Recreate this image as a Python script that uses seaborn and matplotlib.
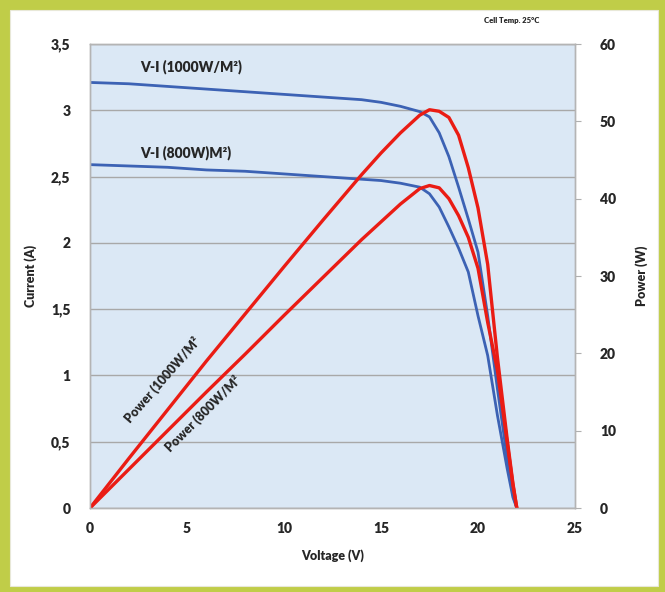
import matplotlib
matplotlib.use("Agg")
import matplotlib.pyplot as plt
from matplotlib.patches import Rectangle
import seaborn as sns
import pandas as pd

# values
voltage = [0, 2, 4, 6, 8, 10, 12, 14, 15, 16, 17, 17.5, 18, 18.5, 19, 19.5,
           20, 20.5, 21, 21.5, 21.8, 22]
current_1000 = [3.21, 3.20, 3.18, 3.16, 3.14, 3.12, 3.10, 3.08, 3.06, 3.03, 2.99, 2.95,
                2.83, 2.65, 2.42, 2.18, 1.93, 1.45, 0.90, 0.38, 0.10, 0.0]
current_800 = [2.59, 2.58, 2.57, 2.55, 2.54, 2.52, 2.50, 2.48, 2.47, 2.45, 2.42, 2.37,
               2.27, 2.12, 1.96, 1.78, 1.45, 1.15, 0.70, 0.30, 0.08, 0.0]
power_1000 = [0, 6.4, 12.7, 19.0, 25.1, 31.2, 37.2, 43.1, 45.9, 48.5, 50.8, 51.5,
              51.3, 50.5, 48.2, 44.0, 38.8, 31.5, 19.5, 9.0, 3.2, 0.0]
power_800 = [0, 5.0, 10.0, 15.0, 19.9, 24.9, 29.8, 34.7, 37.0, 39.3, 41.3, 41.7,
             41.4, 40.0, 37.8, 35.0, 31.0, 24.0, 17.8, 8.5, 3.0, 0.0]

current_ticks = [0, 0.5, 1, 1.5, 2, 2.5, 3, 3.5]
current_labels = ["0", "0,5", "1", "1,5", "2", "2,5", "3", "3,5"]
power_ticks = [0, 10, 20, 30, 40, 50, 60]
voltage_ticks = [0, 5, 10, 15, 20, 25]

df = pd.DataFrame({"V": voltage, "I1000": current_1000, "I800": current_800,
                   "P1000": power_1000, "P800": power_800})

sns.set_style("white")
plt.rcParams["font.family"] = ["Lato", "DejaVu Sans"]
plt.rcParams["font.weight"] = "heavy"
W = "heavy"

blue = "#3c62b4"
red = "#ea1c14"

fig = plt.figure(figsize=(6.65, 5.92), dpi=100)
fig.patch.set_facecolor("#c0cd48")
panel = Rectangle((10 / 665, 6 / 592), 648 / 665, 576 / 592,
                  transform=fig.transFigure, facecolor="white",
                  edgecolor="#e8e8d8", lw=0.8, zorder=-10)
fig.add_artist(panel)

ax = fig.add_axes([90 / 665, 1 - 508 / 592, 485 / 665, 464 / 592])
ax.set_facecolor("#dbe8f5")
ax2 = ax.twinx()

sns.lineplot(data=df, x="V", y="I1000", ax=ax, color=blue, lw=2, sort=False)
sns.lineplot(data=df, x="V", y="I800", ax=ax, color=blue, lw=2, sort=False)
sns.lineplot(data=df, x="V", y="P1000", ax=ax2, color=red, lw=2.4, sort=False)
sns.lineplot(data=df, x="V", y="P800", ax=ax2, color=red, lw=2.4, sort=False)

ax.set_xlim(0, 25)
ax.set_ylim(0, 3.5)
ax2.set_ylim(0, 60)

ax.set_xticks(voltage_ticks)
ax.set_xticklabels([str(v) for v in voltage_ticks], fontsize=10, fontweight=W)
ax.set_yticks(current_ticks)
ax.set_yticklabels(current_labels, fontsize=10, fontweight=W)
ax2.set_yticks(power_ticks)
ax2.set_yticklabels([str(p) for p in power_ticks], fontsize=10, fontweight=W)

ax.grid(axis="y", color="#a8a8a8", lw=1)
ax.grid(axis="x", visible=False)
ax2.grid(False)
ax.set_axisbelow(True)

ax.tick_params(axis="both", length=0, pad=14)
ax.tick_params(axis="x", pad=10)
ax2.tick_params(axis="y", length=4, color="#b0b0b0", pad=14)

for a in (ax, ax2):
    for s in a.spines.values():
        s.set_color("#b4b4b4")
        s.set_linewidth(1)

ax.set_xlabel("Voltage (V)", fontsize=9, fontweight=W, labelpad=10)
ax.set_ylabel("Current (A)", fontsize=9, fontweight=W, labelpad=10)
ax2.set_ylabel("Power (W)", fontsize=9, fontweight=W, labelpad=14)

ax.text(2.57, 3.33, "V-I (1000W/M²)", fontsize=10, fontweight=W, va="center")
ax.text(2.57, 2.68, "V-I (800W)M²)", fontsize=10, fontweight=W, va="center")
ax.text(3.75, 0.965, "Power (1000W/M²", fontsize=9, fontweight=W,
        rotation=49, ha="center", va="center", rotation_mode="anchor")
ax.text(5.8, 0.71, "Power (800W/M²", fontsize=9, fontweight=W,
        rotation=45, ha="center", va="center", rotation_mode="anchor")

fig.text(512 / 665, 1 - 20 / 592, "Cell Temp. 25°C", fontsize=5.5,
         fontweight=W, ha="center", va="center")

fig.savefig("out.png", dpi=100, facecolor=fig.get_facecolor())
